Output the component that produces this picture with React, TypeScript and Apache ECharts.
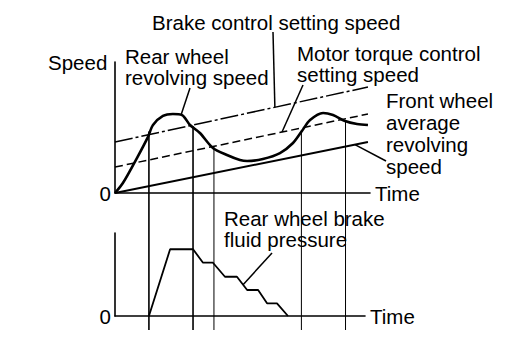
import React, { useEffect, useRef } from "react";
import * as echarts from "echarts";

// Time axis: 0..100 (arbitrary units), speed / pressure: 0..100 (% of panel)
const rearWheelSpeed: number[][] = [
  [0, 0], [3.1, 7.6], [8.6, 26.7], [12.9, 42.7], [14.9, 51.9], [18.8, 58.8],
  [22.7, 60.3], [26.3, 59.5], [29.4, 51.9], [33.3, 45.8], [38.4, 34.4],
  [43.9, 29.0], [49.0, 25.2], [51.8, 24.4], [58.0, 26.0], [64.7, 30.5],
  [69.8, 38.2], [73.3, 47.3], [76.5, 55.7], [81.6, 61.1], [85.5, 59.5],
  [90.2, 55.0], [94.9, 52.7], [99.2, 51.9],
];
const brakeControlSpeed: number[][] = [[0, 38.9], [99.2, 80.9]];
const motorTorqueSpeed: number[][] = [[0, 19.8], [99.2, 60.3]];
const frontWheelSpeed: number[][] = [[0, 0], [99.2, 38.9]];
const brakePressure: number[][] = [
  [13.3, 0], [21.6, 80.4], [30.6, 80.4], [34.5, 64.2], [38.4, 64.2],
  [43.1, 47.3], [47.8, 47.3], [51.8, 31.3], [56.1, 31.3], [59.6, 15.3],
  [63.5, 15.3], [67.8, 0],
];
// vertical marker lines: [time, speed where the marker meets the curve]
const markerTimes: number[] = [13.3, 30.6, 38.8, 73.1, 90.4];
const markerTops: number[] = [47, 51, 35, 48, 55];

const FONT = "Liberation Sans";
const FS = 20.5;

function interp(d: number[][], x: number): number {
  for (let i = 0; i < d.length - 1; i++) {
    const [x0, y0] = d[i];
    const [x1, y1] = d[i + 1];
    if (x >= x0 && x <= x1) return y0 + ((y1 - y0) * (x - x0)) / (x1 - x0);
  }
  return d[d.length - 1][1];
}

export default function App() {
  const ref = useRef<HTMLDivElement>(null);
  useEffect(() => {
    if (!ref.current) return;
    const chart = echarts.init(ref.current, undefined, { renderer: "svg" });
    const axisLine = { show: true, onZero: false, lineStyle: { color: "#000", width: 1.6 } };
    const xAxisBase = {
      type: "value" as const,
      min: 0,
      axisLine,
      axisTick: { show: false },
      axisLabel: { show: false },
      splitLine: { show: false },
      name: "Time",
      nameLocation: "end" as const,
      nameGap: 5,
      nameTextStyle: { fontFamily: FONT, fontSize: FS, color: "#000", align: "left", verticalAlign: "middle" },
    };
    const yAxisBase = {
      type: "value" as const,
      min: 0,
      max: 100,
      interval: 100,
      axisLine,
      axisTick: { show: false },
      splitLine: { show: false },
      axisLabel: {
        fontFamily: FONT,
        fontSize: FS,
        color: "#000",
        margin: 4,
        formatter: (v: number) => (v === 0 ? "0" : ""),
      },
    };
    const lineSeries = (data: number[][], idx: number, style: any, smooth: any = false) => ({
      type: "line",
      xAxisIndex: idx,
      yAxisIndex: idx,
      data,
      smooth,
      showSymbol: false,
      symbol: "none",
      lineStyle: style,
      z: 3,
    });
    chart.setOption({
      animation: false,
      backgroundColor: "#fff",
      grid: [
        { left: 115, top: 62, width: 255, height: 131 },
        { left: 115, top: 233, width: 250, height: 83 },
      ],
      xAxis: [
        { ...xAxisBase, gridIndex: 0, max: 100 },
        { ...xAxisBase, gridIndex: 1, max: 98 },
      ],
      yAxis: [
        { ...yAxisBase, gridIndex: 0 },
        { ...yAxisBase, gridIndex: 1 },
      ],
      series: [
        lineSeries(brakeControlSpeed, 0, { color: "#000", width: 1.5, type: [18, 3, 3, 3] }),
        lineSeries(motorTorqueSpeed, 0, { color: "#000", width: 1.5, type: [8, 4] }),
        lineSeries(frontWheelSpeed, 0, { color: "#000", width: 2 }),
        lineSeries(rearWheelSpeed, 0, { color: "#000", width: 2.6 }, 0.3),
        lineSeries(brakePressure, 1, { color: "#000", width: 1.8 }),
      ],
    });

    const p0 = (x: number, y: number) => chart.convertToPixel({ gridIndex: 0 }, [x, y]) as number[];
    const p1 = (x: number, y: number) => chart.convertToPixel({ gridIndex: 1 }, [x, y]) as number[];
    const graphics: any[] = [];

    // vertical marker lines, from the curve down through the pressure panel
    markerTimes.forEach((t, i) => {
      const top = p0(t, markerTops[i]);
      const bot = p1(t, 0);
      graphics.push({
        type: "line",
        shape: { x1: top[0], y1: top[1], x2: top[0], y2: bot[1] + 14 },
        style: { stroke: "#000", lineWidth: i < 2 ? 1.6 : 1 },
        z: 2,
      });
    });

    // multi-line label; y = vertical centre of the first line
    const text = (t: string, x: number, y: number, lh = 21) =>
      graphics.push({
        type: "text",
        x,
        y: y - lh / 2,
        style: {
          text: t,
          fill: "#000",
          font: `${FS}px "${FONT}"`,
          lineHeight: lh,
          verticalAlign: "top",
          align: "left",
        },
        z: 10,
      });
    const leader = (x1: number, y1: number, pt: number[]) =>
      graphics.push({
        type: "line",
        shape: { x1, y1, x2: pt[0], y2: pt[1] },
        style: { stroke: "#000", lineWidth: 1.5 },
        z: 5,
      });

    text("Brake control setting speed", 152, 22);
    text("Speed", 48, 62);
    text("Rear wheel\nrevolving speed", 125, 56, 21);
    text("Motor torque control\nsetting speed", 297, 53, 21);
    text("Front wheel\naverage\nrevolving\nspeed", 386, 100, 22);
    text("Rear wheel brake\nfluid pressure", 224, 218, 21);

    const bx = 62.7;
    leader(273, 32, p0(bx, interp(brakeControlSpeed, bx)));
    const rx = 25.9;
    leader(190, 88, p0(rx, interp(rearWheelSpeed, rx)));
    const mx = 65.5;
    leader(303, 85, p0(mx, interp(motorTorqueSpeed, mx)));
    const fx = 94.1;
    leader(386, 161, p0(fx, interp(frontWheelSpeed, fx)));
    const px = 50.2;
    leader(272, 253, p1(px, interp(brakePressure, px)));

    chart.setOption({ graphic: graphics });
    return () => chart.dispose();
  }, []);
  return (
    <div
      ref={ref}
      style={{ position: "absolute", left: 0, top: 0, width: 512, height: 364, background: "#fff" }}
    />
  );
}
